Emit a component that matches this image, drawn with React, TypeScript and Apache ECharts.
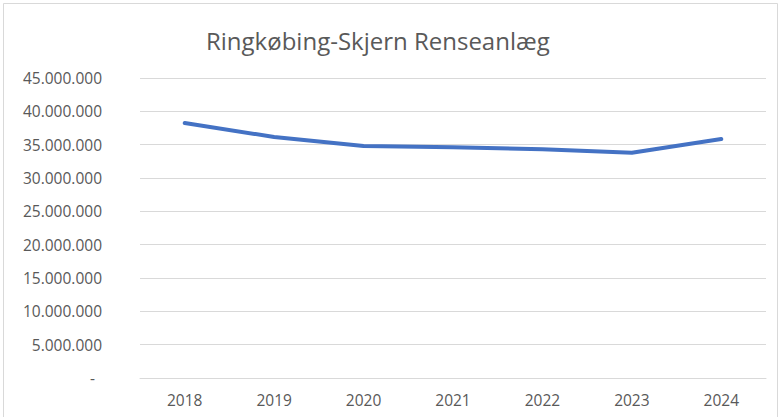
import React, { useEffect, useRef } from "react";
import * as echarts from "echarts";

const categories = ["2018", "2019", "2020", "2021", "2022", "2023", "2024"];
const values = [38250000, 36150000, 34800000, 34600000, 34300000, 33800000, 35850000];
const titleText = "Ringkøbing-Skjern Renseanlæg";

function fmt(v: number): string {
  if (v === 0) return "{d|-}";
  return String(Math.round(v)).replace(/\B(?=(\d{3})+(?!\d))/g, ".");
}

export default function App() {
  const ref = useRef<HTMLDivElement>(null);
  useEffect(() => {
    if (!ref.current) return;
    const chart = echarts.init(ref.current, null, { renderer: "svg" });
    chart.setOption({
      animation: false,
      backgroundColor: "#ffffff",
      title: {
        text: titleText,
        left: 201,
        top: 23,
        textStyle: {
          fontFamily: "Open Sans",
          fontWeight: "normal",
          fontSize: 24,
          color: "#595959",
        },
      },
      graphic: [
        {
          type: "rect",
          shape: { x: 3.5, y: 3.5, width: 774, height: 420 },
          style: { fill: "none", stroke: "#d9d9d9", lineWidth: 1 },
          silent: true,
        },
      ],
      grid: { left: 140, right: 15, top: 78, bottom: 39, containLabel: false },
      xAxis: {
        type: "category",
        data: categories,
        boundaryGap: true,
        axisLine: { show: true, lineStyle: { color: "#d9d9d9", width: 1 } },
        axisTick: { show: false },
        axisLabel: {
          color: "#595959",
          fontSize: 15.5,
          fontFamily: "Open Sans",
          margin: 14,
        },
      },
      yAxis: {
        type: "value",
        min: 0,
        max: 45000000,
        interval: 5000000,
        axisLine: { show: false },
        axisTick: { show: false },
        splitLine: { lineStyle: { color: "#d9d9d9", width: 1 } },
        axisLabel: {
          color: "#595959",
          fontSize: 15.5,
          fontFamily: "Open Sans",
          margin: 38,
          formatter: fmt,
          rich: {
            d: {
              color: "#595959",
              fontSize: 15.5,
              fontFamily: "Open Sans",
              padding: [0, 7, 0, 0],
            },
          },
        },
      },
      series: [
        {
          type: "line",
          data: values,
          showSymbol: false,
          symbol: "none",
          lineStyle: { color: "#4472C4", width: 4, cap: "round", join: "round" },
          itemStyle: { color: "#4472C4" },
        },
      ],
    });
    return () => chart.dispose();
  }, []);
  return (
    <div
      ref={ref}
      style={{ position: "fixed", left: 0, top: 0, width: 781, height: 417 }}
    />
  );
}
